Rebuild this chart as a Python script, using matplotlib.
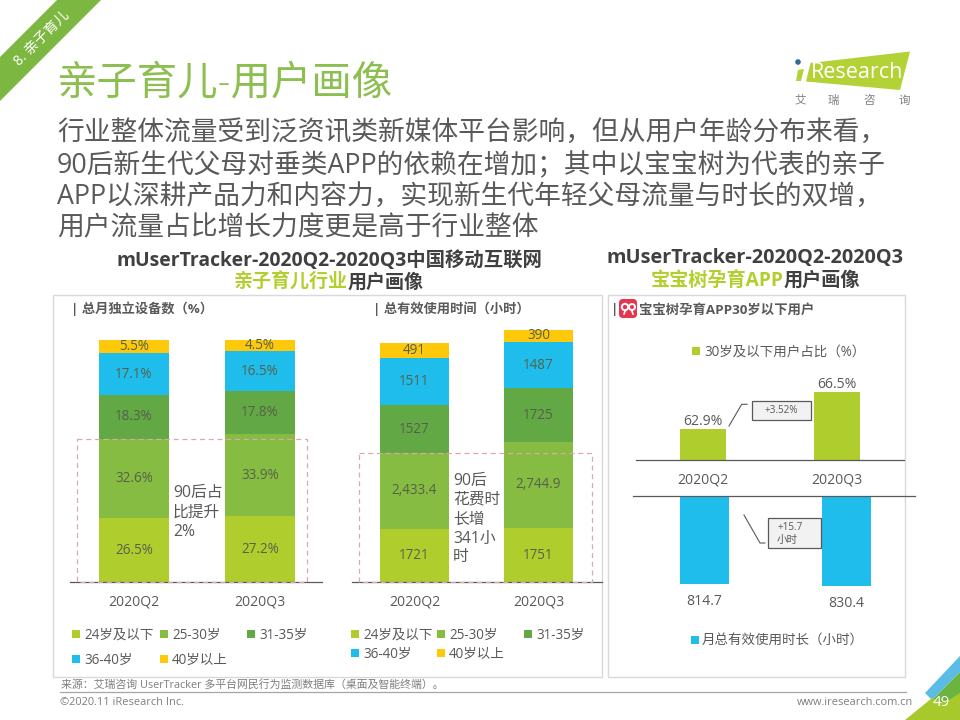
import matplotlib
matplotlib.use('Agg')
import matplotlib.pyplot as plt
from matplotlib.patches import Rectangle, Polygon, FancyBboxPatch, Circle

plt.rcParams['font.family'] = ['Open Sans', 'Noto Sans CJK SC', 'DejaVu Sans']

# ---------- data ----------
quarters = ['2020Q2', '2020Q3']
age_groups = ['24岁及以下', '25-30岁', '31-35岁', '36-40岁', '40岁以上']
devices_q2 = [26.5, 32.6, 18.3, 17.1, 5.5]
devices_q3 = [27.2, 33.9, 17.8, 16.5, 4.5]
hours_q2 = [1721, 2433.4, 1527, 1511, 491]
hours_q3 = [1751, 2744.9, 1725, 1487, 390]
young_share = [62.9, 66.5]
young_hours = [814.7, 830.4]

body_lines = [
    '行业整体流量受到泛资讯类新媒体平台影响，但从用户年龄分布来看，',
    '90后新生代父母对垂类APP的依赖在增加；其中以宝宝树为代表的亲子',
    'APP以深耕产品力和内容力，实现新生代年轻父母流量与时长的双增，',
    '用户流量占比增长力度更是高于行业整体',
]

# ---------- style ----------
AGE_COLORS = ['#AFCE2E', '#86BC41', '#62A844', '#1FBDEB', '#FFC90B']
TITLE_GREEN = '#8CBF4F'
TEXT = '#595959'
DARK = '#404040'
AXIS = '#595959'
W, H = 960, 720
PX = 72 / 100  # points per pixel


def fs(px):
    return px * PX


fig = plt.figure(figsize=(W / 100, H / 100), dpi=100, facecolor='white')


def overlay(z):
    ax = fig.add_axes([0, 0, 1, 1], zorder=z)
    ax.set_xlim(0, W)
    ax.set_ylim(H, 0)
    ax.axis('off')
    ax.patch.set_alpha(0)
    return ax


def pix_axes(x0, y0, x1, y1):
    ax = fig.add_axes([x0 / W, 1 - y1 / H, (x1 - x0) / W, (y1 - y0) / H], zorder=2)
    ax.patch.set_alpha(0)
    for s in ax.spines.values():
        s.set_visible(False)
    ax.set_yticks([])
    return ax


bg = overlay(0)
fg = overlay(5)

# ---------- header decoration ----------
bg.add_patch(Polygon([(57, 0), (101, 0), (0, 101), (0, 57)], fc='#7CB742', ec='none'))
bg.text(42, 38, '8. 亲子育儿', color='white', fontsize=fs(14), rotation=45,
        ha='center', va='center', rotation_mode='anchor')
bg.text(56, 94, '亲子育儿-用户画像', color=TITLE_GREEN, fontsize=fs(40.4),
        ha='left', va='baseline', fontweight='light')

body_y = [140, 173, 204, 235]
for line, y in zip(body_lines, body_y):
    bg.text(57, y, line, color=TEXT, fontsize=fs(26.75), ha='left', va='baseline')

# logo
bg.add_patch(Polygon([(810.5, 63), (910, 51.5), (900, 90), (806, 81.5)], fc='#B2D235', ec='none'))
bg.text(811, 72.5, 'Research', color='white', fontsize=fs(21.5), family='Open Sans',
        ha='left', va='center')
bg.add_patch(Polygon([(798, 70), (804, 69), (801, 81), (796, 81)], fc='#B2D235', ec='none'))
bg.add_patch(Circle((798, 62), 2.8, fc='#2C6E91', ec='none'))
for x, ch in zip([800, 833, 869, 904], '艾瑞咨询'):
    bg.text(x, 101, ch, color='#7f7f7f', fontsize=fs(11.5), ha='center', va='center')

# subtitles
SUB_GREEN = '#B2CF2E'
bg.text(329, 266, 'mUserTracker-2020Q2-2020Q3中国移动互联网', color=DARK, fontsize=fs(19.4),
        fontweight='bold', ha='center', va='baseline')
bg.text(348, 288, '亲子育儿行业', color=SUB_GREEN, fontsize=fs(19), fontweight='bold', ha='right', va='baseline')
bg.text(348, 288, '用户画像', color=DARK, fontsize=fs(19), fontweight='bold', ha='left', va='baseline')
bg.text(755, 263, 'mUserTracker-2020Q2-2020Q3', color=DARK, fontsize=fs(19.9),
        fontweight='bold', ha='center', va='baseline')
bg.text(784, 286, '宝宝树孕育APP', color=SUB_GREEN, fontsize=fs(19.2), fontweight='bold', ha='right', va='baseline')
bg.text(784, 286, '用户画像', color=DARK, fontsize=fs(19.2), fontweight='bold', ha='left', va='baseline')

# panels
bg.add_patch(Rectangle((53, 295), 549, 381.5, fc='white', ec='#D9D9D9', lw=1))
bg.add_patch(Rectangle((608, 295), 297, 381.5, fc='white', ec='#D9D9D9', lw=1))

bg.text(71, 313.5, '| 总月独立设备数（%）', color=TEXT, fontsize=fs(13.2), fontweight='bold', ha='left', va='baseline')
bg.text(373, 313.5, '| 总有效使用时间（小时）', color=TEXT, fontsize=fs(13.2), fontweight='bold', ha='left', va='baseline')
bg.text(611, 313.5, '|', color=TEXT, fontsize=fs(13.2), fontweight='bold', ha='left', va='baseline')
bg.text(639, 313.5, '宝宝树孕育APP30岁以下用户', color=TEXT, fontsize=fs(13.4), fontweight='bold', ha='left', va='baseline')

# app icon
bg.add_patch(FancyBboxPatch((621, 301), 14, 15, boxstyle='round,pad=2,rounding_size=4', fc='#E8344E', ec='none'))
bg.add_patch(Circle((625, 307), 3.2, fc='none', ec='white', lw=1.4))
bg.add_patch(Circle((632, 307), 3.0, fc='none', ec='white', lw=1.4))
bg.plot([625.5, 624], [310, 314], color='white', lw=1.2)
bg.plot([631.5, 633], [310, 314], color='white', lw=1.2)


# ---------- stacked charts ----------
def stacked(ax, series_a, series_b, formats):
    bottoms = [0, 0]
    for i, color in enumerate(AGE_COLORS):
        vals = [series_a[i], series_b[i]]
        bars = ax.bar([0, 1], vals, bottom=bottoms, width=ax.bar_w, color=color, lw=0)
        ax.bar_label(bars, labels=[formats(i, v) for v in vals], label_type='center',
                     color='#56614A', fontsize=fs(13.5))
        bottoms = [bottoms[0] + vals[0], bottoms[1] + vals[1]]
    ax.set_xticks([0, 1], quarters)
    ax.tick_params(axis='x', length=0, pad=9, labelsize=fs(14), labelcolor=TEXT)
    ax.spines['bottom'].set_visible(True)
    ax.spines['bottom'].set_color(AXIS)
    ax.spines['bottom'].set_linewidth(0.9)


BASE = 582.3

ax1 = pix_axes(70, 320, 322, BASE)
ax1.bar_w = 70 / 126
ax1.set_xlim((70 - 134) / 126, (322 - 134) / 126)
ax1.set_ylim(0, (BASE - 320) / 2.423)
stacked(ax1, devices_q2, devices_q3, lambda i, v: f'{v}%')

ax2 = pix_axes(352, 320, 602, BASE)
ax2.bar_w = 69 / 124
ax2.set_xlim((352 - 414.5) / 124, (602 - 414.5) / 124)
ax2.set_ylim(0, (BASE - 320) / 0.03117)
stacked(ax2, hours_q2, hours_q3, lambda i, v: f'{v:,.1f}' if i == 1 else f'{v:.0f}')

# ---------- right panel ----------
ax3 = pix_axes(636, 370, 904, 460.3)
ax3.set_xlim(-0.5, 1.5)
ax3.set_ylim(59.88, 59.88 + 90.3 / 10.36)
b3 = ax3.bar([0, 1], young_share, width=46 / 134, color=AGE_COLORS[0], lw=0)
ax3.bar_label(b3, labels=[f'{v}%' for v in young_share], padding=0, color=TEXT, fontsize=fs(14))
ax3.set_xticks([0, 1], quarters)
ax3.tick_params(axis='x', length=0, pad=9, labelsize=fs(14), labelcolor=TEXT)
ax3.spines['bottom'].set_visible(True)
ax3.spines['bottom'].set_color(AXIS)
ax3.spines['bottom'].set_linewidth(0.9)

ax4 = pix_axes(633, 496.3, 915, 612)
ax4.set_xlim((633 - 704.5) / 142, (915 - 704.5) / 142)
ax4.set_ylim(115.7 / 0.1082, 0)
b4 = ax4.bar([0, 1], young_hours, width=49 / 142, color=AGE_COLORS[3], lw=0)
ax4.bar_label(b4, labels=[f'{v}' for v in young_hours], padding=7, color=TEXT, fontsize=fs(14))
ax4.set_xticks([])
ax4.spines['top'].set_visible(True)
ax4.spines['top'].set_color(AXIS)
ax4.spines['top'].set_linewidth(0.9)

# ---------- legends ----------
def legend_item(x, y, color, label, gap=4):
    fg.add_patch(Rectangle((x, y - 4), 8, 8, fc=color, ec='none'))
    fg.text(x + 8 + gap, y + 4.5, label, color=TEXT, fontsize=fs(13.5), ha='left', va='baseline')


for (x, y), color, label in zip([(72, 634), (160, 634), (247, 634), (72, 659), (160, 659)], AGE_COLORS, age_groups):
    legend_item(x, y, color, label)
for (x, y), color, label in zip([(351, 634), (437, 634), (524, 634), (351, 653), (437, 653)], AGE_COLORS, age_groups):
    legend_item(x, y, color, label)
legend_item(692, 351, AGE_COLORS[0], '30岁及以下用户占比（%）')
legend_item(691, 640, AGE_COLORS[3], '月总有效使用时长（小时）', gap=3)

# ---------- annotations ----------
DASH = '#D8A9B0'
fg.add_patch(Rectangle((76.7, 439), 230, 143, fc='none', ec=DASH, lw=0.9, ls=(0, (4, 3))))
fg.add_patch(Rectangle((359, 453.3), 232.7, 129, fc='none', ec=DASH, lw=0.9, ls=(0, (4, 3))))
for y, s in zip([491, 511, 531], ['90后占', '比提升', '2%']):
    fg.text(173, y + 5.5, s, color=TEXT, fontsize=fs(15.8), ha='left', va='baseline')
for y, s in zip([479, 498, 518, 537, 556], ['90后', '花费时', '长增', '341小', '时']):
    fg.text(453, y + 5.5, s, color=TEXT, fontsize=fs(15.8), ha='left', va='baseline')

fg.plot([729, 741.7, 747], [426, 404.3, 404.3], color=AXIS, lw=0.8)
fg.add_patch(Rectangle((751.7, 401), 59, 18.7, fc='#F2F2F2', ec=AXIS, lw=0.9))
fg.text(781.2, 410.3, '+3.52%', color=TEXT, fontsize=fs(10), ha='center', va='center')
fg.plot([744, 760, 765], [515, 543, 543], color=AXIS, lw=0.8)
fg.add_patch(Rectangle((768.3, 518.3), 52.4, 30, fc='#F2F2F2', ec=AXIS, lw=0.9))
fg.text(778, 527, '+15.7', color=TEXT, fontsize=fs(10), ha='left', va='center')
fg.text(777, 540, '小时', color=TEXT, fontsize=fs(10.5), ha='left', va='center')

# ---------- footer ----------
bg.text(61, 688, '来源：艾瑞咨询 UserTracker 多平台网民行为监测数据库（桌面及智能终端）。',
        color='#7f7f7f', fontsize=fs(10.9), ha='left', va='baseline')
bg.plot([60, 906], [692, 692], color='#A6A6A6', lw=0.9)
bg.text(60, 702.5, '©2020.11 iResearch Inc.', color='#7f7f7f', fontsize=fs(11), ha='left', va='center')
bg.text(913, 702.5, 'www.iresearch.com.cn', color='#7f7f7f', fontsize=fs(11), ha='right', va='center')

bg.add_patch(Polygon([(925, 693), (960, 656), (960, 672), (932, 700)], fc='#5BBDE6', ec='none'))
bg.add_patch(Polygon([(932, 700), (960, 672), (960, 695), (944, 703)], fc='#6DB33F', ec='none'))
bg.add_patch(Polygon([(905, 720), (932, 698), (944, 703), (960, 693), (960, 720)], fc='#A8C92B', ec='none'))
bg.text(941, 703, '49', color='white', fontsize=fs(15), ha='center', va='center')

fig.savefig('out.png', dpi=100)
